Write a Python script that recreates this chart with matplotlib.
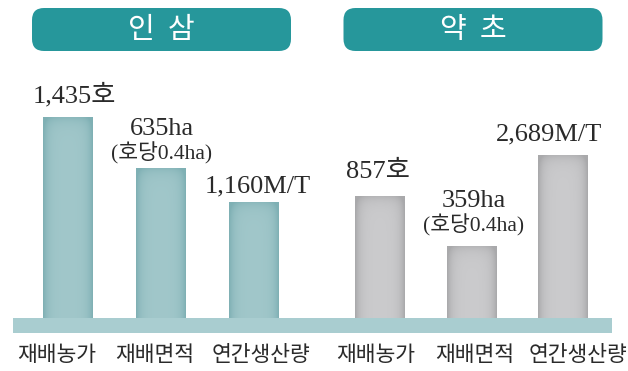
import numpy as np
import matplotlib.pyplot as plt
from matplotlib.patches import FancyBboxPatch
from matplotlib.colors import to_rgb

plt.rcParams['font.family'] = ['Noto Sans CJK KR', 'DejaVu Sans']

# two crop groups, three indicators each
groups = ['인  삼', '약  초']
categories = ['재배농가', '재배면적', '연간생산량']
ginseng_values = ['1,435호', '635ha', '1,160M/T']
herb_values = ['857호', '359ha', '2,689M/T']
area_note = '(호당0.4ha)'
# bar heights as drawn (indicators use different units, so no shared scale)
ginseng_heights = [201, 150, 116]
herb_heights = [122, 72, 163]

W, H = 628, 371
fig = plt.figure(figsize=(W / 100, H / 100), dpi=100)
ax = fig.add_axes([0, 0, 1, 1])
ax.set_xlim(0, W)
ax.set_ylim(0, H)
ax.axis('off')

base = 53          # top of the ground strip
bar_w = 50
serif = ['Liberation Serif', 'Noto Sans CJK KR']
txt_col = '#2a2a2a'


def shaded_bar(x, h, center, edge):
    c0, c1 = np.array(to_rgb(center)), np.array(to_rgb(edge))
    nx, ny = 60, 120
    u = np.linspace(0, 1, nx)
    v = np.linspace(0, 1, ny)  # 0 = bottom, 1 = top
    fx = np.exp(-u / 0.10) + np.exp(-(1 - u) / 0.10)
    fy = np.exp(-(1 - v) * h / 6.0)
    f = np.clip(fx[None, :] + 0.6 * fy[:, None], 0, 1)
    img = c0 * (1 - f[..., None]) + c1 * f[..., None]
    bar = ax.bar(x, h, width=bar_w, bottom=base, color=center, zorder=2)[0]
    im = ax.imshow(img, extent=(x - bar_w / 2, x + bar_w / 2, base, base + h),
                   origin='lower', aspect='auto', zorder=3, interpolation='bilinear')
    im.set_clip_path(bar)


# ground strip
ax.fill_between([13, 612], base - 15, base, color='#a9cdd0', lw=0, zorder=1)

specs = [
    (groups[0], 161.5, 68, 93, ginseng_heights, ginseng_values,
     '#a1c7ca', '#7fb0b4', [6, 1, 4], [15, 33, 10]),
    (groups[1], 473, 380, 91.5, herb_heights, herb_values,
     '#cbcbcd', '#a9a9ab', [-2, 2, -14], [18, 39, 15]),
]

for title, cx, x0, step, heights, values, c_mid, c_edge, dxs, gaps in specs:
    box = FancyBboxPatch((cx - 129.5, H - 51), 259, 43,
                         boxstyle='round,pad=0,rounding_size=12',
                         fc='#26979b', ec='none', zorder=2)
    ax.add_patch(box)
    ax.text(cx, H - 29.5, title, ha='center', va='center', color='white',
            fontsize=21, zorder=3)

    for i, (h, val) in enumerate(zip(heights, values)):
        x = x0 + step * i
        shaded_bar(x, h, c_mid, c_edge)
        top = base + h
        ax.text(x + dxs[i], top + gaps[i], val, ha='center', va='baseline',
                family=serif, fontsize=19, color=txt_col, zorder=4)
        if i == 1:
            ax.text(x + dxs[i], top + gaps[i] - 24, area_note, ha='center',
                    va='baseline', family=serif, fontsize=15.5, color=txt_col,
                    zorder=4)

cat_x = [57, 155, 261, 376, 475, 578]
for x, name in zip(cat_x, categories * 2):
    ax.text(x, H - 355, name, ha='center', va='center', fontsize=15.5,
            color=txt_col)

fig.savefig('out.png', dpi=100)
